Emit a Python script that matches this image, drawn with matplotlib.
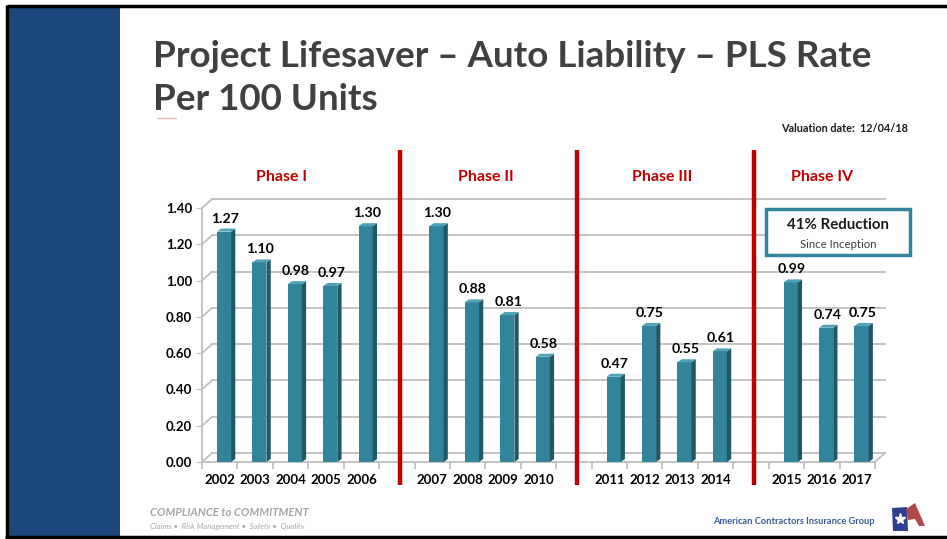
import numpy as np
import matplotlib
matplotlib.use("Agg")
import matplotlib.pyplot as plt
from matplotlib.patches import Polygon, Rectangle

# chart data
phases = ["Phase I", "Phase II", "Phase III", "Phase IV"]
phase_years = [
    ["2002", "2003", "2004", "2005", "2006"],
    ["2007", "2008", "2009", "2010"],
    ["2011", "2012", "2013", "2014"],
    ["2015", "2016", "2017"],
]
phase_values = [
    [1.27, 1.10, 0.98, 0.97, 1.30],
    [1.30, 0.88, 0.81, 0.58],
    [0.47, 0.75, 0.55, 0.61],
    [0.99, 0.74, 0.75],
]
yticks = [0.0, 0.2, 0.4, 0.6, 0.8, 1.0, 1.2, 1.4]

W, H = 947, 539
TEAL = "#31849B"
TEAL_SIDE = "#215866"
TEAL_TOP = "#4FA3B8"
RED = "#C00000"
NAVY = "#1F497D"
GRID = "#BFBFBF"
plt.rcParams["font.family"] = ["Lato", "DejaVu Sans"]

# slot positions with one empty slot between phases
years, values, pos, seps, phase_mid = [], [], [], [], []
slot = 0
for g, (ys, vs) in enumerate(zip(phase_years, phase_values)):
    start = slot
    for y, v in zip(ys, vs):
        years.append(y)
        values.append(v)
        pos.append(slot)
        slot += 1
    phase_mid.append((start + slot - 1) / 2)
    if g < len(phase_years) - 1:
        seps.append(slot)
        slot += 1
nslots = slot
pos = np.array(pos, dtype=float)
phase_mid[0] -= 0.25

fig = plt.figure(figsize=(W / 100, H / 100), dpi=100)

# slide background: border + navy band
bg = fig.add_axes([0, 0, 1, 1])
bg.set_xlim(0, W)
bg.set_ylim(H, 0)
bg.axis("off")
bg.add_patch(Rectangle((8, 7), 112, 529, color=NAVY, lw=0))
bg.plot([6.5, W], [6, 6], color="black", lw=2.5, solid_capstyle="butt")
bg.plot([6.5, 6.5], [5, 537], color="black", lw=2.5, solid_capstyle="butt")
bg.plot([5, W], [537, 537], color="black", lw=2.5, solid_capstyle="butt")
bg.plot([157, 176], [118, 118], color="#F4B6B6", lw=1)

bg.text(153, 67, "Project Lifesaver \u2013 Auto Liability \u2013 PLS Rate",
        fontsize=26.5, fontweight="bold", color="#404040", va="baseline")
bg.text(153, 110, "Per 100 Units", fontsize=26.5, fontweight="bold",
        color="#404040", va="baseline")
bg.text(908, 129, "Valuation date:  12/04/18", fontsize=7.8, fontweight="bold",
        color="#1a1a1a", ha="right", va="center")

# footer
bg.text(150, 513, "COMPLIANCE to COMMITMENT", fontsize=8.1, fontweight="bold",
        style="italic", color="#A6A6A6", va="center")
bg.text(150, 526, "Claims \u2022  Risk Management \u2022  Safety \u2022  Quality",
        fontsize=5.6, style="italic", color="#A6A6A6", va="center")
bg.text(875, 522, "American Contractors Insurance Group", fontsize=6.7,
        fontweight="bold", color="#3A5A94", ha="right", va="center")
bg.add_patch(Polygon([(892, 508), (907, 507), (908, 531), (893, 531)],
                     color="#2E3F8F", lw=0))
bg.add_patch(Polygon([(906, 509), (915, 503), (925, 526), (919, 526),
                      (915, 519), (908, 520)], color="#B04A4A", lw=0))
bg.plot([900], [519], marker="*", color="white", ms=8, mec="white")

# chart axes: x slots -0.5..nslots-0.5 -> px 202..875, y 0..1.4 -> px 462..208
x0, x1, y0, y1 = 202, 875, 462, 208
ax = fig.add_axes([x0 / W, 1 - y0 / H, (x1 - x0) / W, (y0 - y1) / H])
ax.set_xlim(-0.5, nslots - 0.5)
ax.set_ylim(0, 1.4)
ax.patch.set_alpha(0)
slot_px = (x1 - x0) / nslots
unit_px = (y0 - y1) / 1.4

# back wall with gridlines
wdx = 10 / slot_px
wdy = 9 / unit_px
for t in yticks:
    ax.plot([-0.5 + wdx, nslots - 0.5 + wdx], [t + wdy, t + wdy], color=GRID,
            lw=1.3, clip_on=False, zorder=1)
    ax.plot([-0.5, -0.5 + wdx], [t, t + wdy], color=GRID, lw=1.3,
            clip_on=False, zorder=1)
ax.plot([nslots - 0.5, nslots - 0.5 + wdx], [0, wdy], color=GRID, lw=1.3,
        clip_on=False, zorder=1)

# 3D-looking bars
bw = 0.40
sdx = 0.12
sdy = 3 / unit_px
cx = pos + 0.12
ax.bar(cx, values, width=bw, color=TEAL, zorder=3, lw=0)
for c, v in zip(cx, values):
    r = c + bw / 2
    l = c - bw / 2
    ax.add_patch(Polygon([(r, 0), (r + sdx, sdy), (r + sdx, v + sdy), (r, v)],
                         color=TEAL_SIDE, lw=0, zorder=3))
    ax.add_patch(Polygon([(l, v), (r, v), (r + sdx, v + sdy), (l + sdx, v + sdy)],
                         color=TEAL_TOP, lw=0, zorder=3))
    ax.annotate(f"{v:.2f}", (c + 0.03, v), xytext=(0, 5), textcoords="offset points",
                ha="center", va="bottom", fontsize=10.2, fontweight="bold",
                color="black", zorder=5)

# phase separators and titles
for s in seps:
    ax.plot([s + 0.08, s + 0.08], [-0.127, 1.72], color=RED, lw=3.2,
            clip_on=False, zorder=4, solid_capstyle="butt")
for name, m in zip(phases, phase_mid):
    ax.text(m, 1.57, name, ha="center", va="center", fontsize=11.5,
            fontweight="bold", color=RED)

# reduction call-out box
bx0 = (766 - x0) / slot_px - 0.5
bx1 = (910 - x0) / slot_px - 0.5
by0 = (y0 - 255) / unit_px
by1 = (y0 - 209) / unit_px
bxc = (bx0 + bx1) / 2
ax.add_patch(Rectangle((bx0, by0), bx1 - bx0, by1 - by0, fill=True, fc="white",
                       ec=TEAL, lw=2.5, clip_on=False, zorder=5))
ax.text(bxc, (y0 - 225) / unit_px, "41% Reduction", ha="center", va="center",
        fontsize=10.8, fontweight="bold", color="#1a1a1a", zorder=6, clip_on=False)
ax.text(bxc, (y0 - 244) / unit_px, "Since Inception", ha="center", va="center",
        fontsize=8.2, color="#404040", zorder=6, clip_on=False)

# axes styling
for sp in ["top", "right"]:
    ax.spines[sp].set_visible(False)
ax.spines["left"].set_color(GRID)
ax.spines["bottom"].set_color(GRID)
ax.spines["left"].set_linewidth(1.3)
ax.spines["bottom"].set_linewidth(1.3)
ax.set_yticks(yticks)
ax.set_yticklabels([f"{t:.2f}" for t in yticks], fontsize=9.5, fontweight="bold")
ax.tick_params(axis="y", length=4, color=GRID, pad=3)
ax.set_xticks(pos)
ax.set_xticklabels(years, fontsize=9.5, fontweight="bold")
ax.tick_params(axis="x", which="major", length=0, pad=9)
ax.set_xticks(np.arange(nslots + 1) - 0.5, minor=True)
ax.tick_params(axis="x", which="minor", length=5, color=GRID, width=1.3)

fig.savefig("out.png", dpi=100)
